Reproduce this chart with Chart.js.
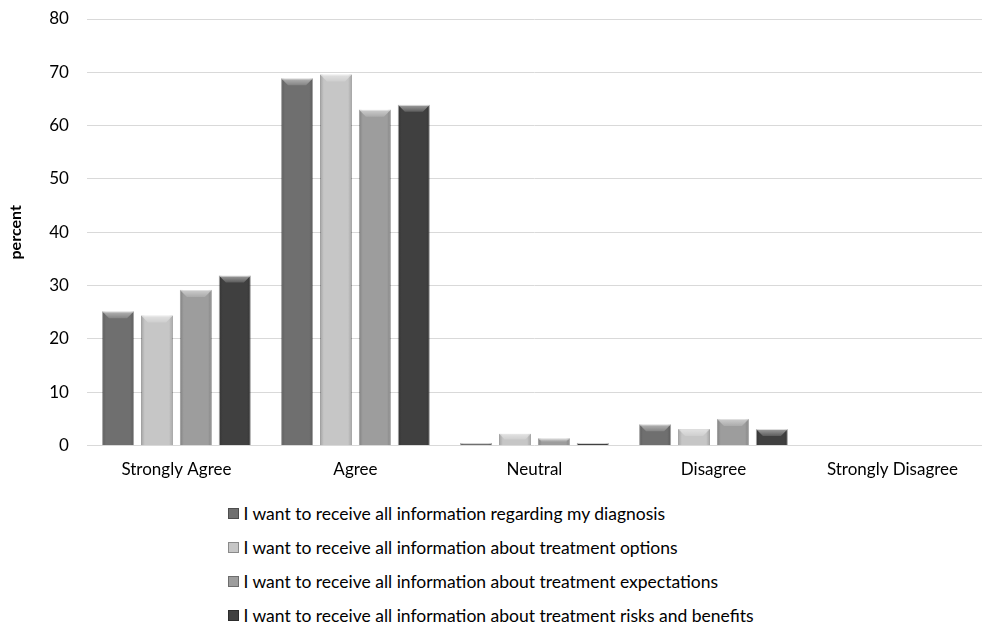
<!DOCTYPE html>
<html>
<head>
<meta charset="utf-8">
<script src="https://cdn.jsdelivr.net/npm/chart.js@4"></script>
<style>
  body { margin: 0; background: #fff; font-family: Lato, sans-serif; }
  #wrap { width: 982px; height: 486px; position: relative; }
  #legend { display: flex; flex-direction: column; align-items: flex-start; width: max-content; margin: 10px auto 0 auto; }
  .item { display: flex; align-items: center; height: 34px; font-size: 17.5px; color: #000; }
  .box { width: 9px; height: 9px; margin-right: 4px; border: 1px solid rgba(0,0,0,0.3); }
</style>
</head>
<body>
<div id="wrap"><canvas id="barChart"></canvas></div>
<div id="legend"></div>
<script>
const categories = ['Strongly Agree', 'Agree', 'Neutral', 'Disagree', 'Strongly Disagree'];
const seriesNames = [
  'I want to receive all information regarding my diagnosis',
  'I want to receive all information about treatment options',
  'I want to receive all information about treatment expectations',
  'I want to receive all information about treatment risks and benefits'
];
const diagnosis = [25.2, 68.9, 0.5, 4.0, 0];
const options = [24.4, 69.6, 2.2, 3.1, 0];
const expectations = [29.2, 63.0, 1.4, 5.0, 0];
const risks = [31.9, 63.9, 0.5, 3.1, 0];
const colors = ['#6f6f6f', '#c6c6c6', '#9d9d9d', '#404040'];

const allValues = [diagnosis, options, expectations, risks];

// little bevel on top of each bar, like the office 3d style
const bevel = {
  id: 'bevel',
  afterDatasetsDraw(chart) {
    const c = chart.ctx;
    chart.data.datasets.forEach(function(ds, i) {
      chart.getDatasetMeta(i).data.forEach(function(bar) {
        const h = bar.base - bar.y;
        if (h <= 0.5) return;
        const l = bar.x - bar.width / 2, r = bar.x + bar.width / 2;
        const b = Math.min(7, h / 2);
        c.save();
        // side shading
        const g = c.createLinearGradient(l, 0, r, 0);
        g.addColorStop(0, 'rgba(0,0,0,0.18)');
        g.addColorStop(0.12, 'rgba(0,0,0,0)');
        g.addColorStop(0.88, 'rgba(0,0,0,0)');
        g.addColorStop(1, 'rgba(0,0,0,0.18)');
        c.fillStyle = g;
        c.fillRect(l, bar.y, bar.width, h);
        // top bevel
        const t = c.createLinearGradient(0, bar.y, 0, bar.y + b);
        t.addColorStop(0, 'rgba(255,255,255,0.5)');
        t.addColorStop(1, 'rgba(255,255,255,0.15)');
        c.fillStyle = t;
        c.beginPath();
        c.moveTo(l, bar.y);
        c.lineTo(r, bar.y);
        c.lineTo(r - b, bar.y + b);
        c.lineTo(l + b, bar.y + b);
        c.closePath();
        c.fill();
        c.restore();
      });
    });
  }
};

const ctx = document.getElementById('barChart').getContext('2d');
const myChart = new Chart(ctx, {
  type: 'bar',
  data: {
    labels: categories,
    datasets: seriesNames.map(function(name, i) {
      return {
        label: name,
        data: allValues[i],
        backgroundColor: colors[i],
        borderColor: 'rgba(0,0,0,0.25)',
        borderWidth: 1,
        categoryPercentage: 0.87,
        barPercentage: 0.82
      };
    })
  },
  options: {
    responsive: true,
    maintainAspectRatio: false,
    animation: false,
    layout: { padding: { top: 19, right: 0, left: 0, bottom: 0 } },
    plugins: {
      legend: { display: false },
      tooltip: { enabled: false }
    },
    scales: {
      x: {
        grid: { display: false },
        border: { display: false },
        ticks: { color: '#000', font: { family: 'Lato', size: 17 }, padding: 6 }
      },
      y: {
        min: 0,
        max: 80,
        ticks: { stepSize: 10, color: '#000', font: { family: 'Lato', size: 17 }, padding: 0 },
        // invisible tick marks keep the gap between labels and grid
        grid: { color: '#d9d9d9', drawTicks: true, tickLength: 18, tickColor: 'rgba(0,0,0,0)' },
        border: { display: false },
        title: { display: true, text: 'percent', color: '#000', font: { family: 'Lato', size: 16, weight: 'bold' }, padding: { top: 6, bottom: 24 } }
      }
    }
  },
  plugins: [bevel]
});

// legend in html so the lines stay left aligned
const legendDiv = document.getElementById('legend');
seriesNames.forEach(function(name, i) {
  const row = document.createElement('div');
  row.className = 'item';
  const box = document.createElement('span');
  box.className = 'box';
  box.style.background = colors[i];
  row.appendChild(box);
  row.appendChild(document.createTextNode(name));
  legendDiv.appendChild(row);
});
</script>
</body>
</html>
